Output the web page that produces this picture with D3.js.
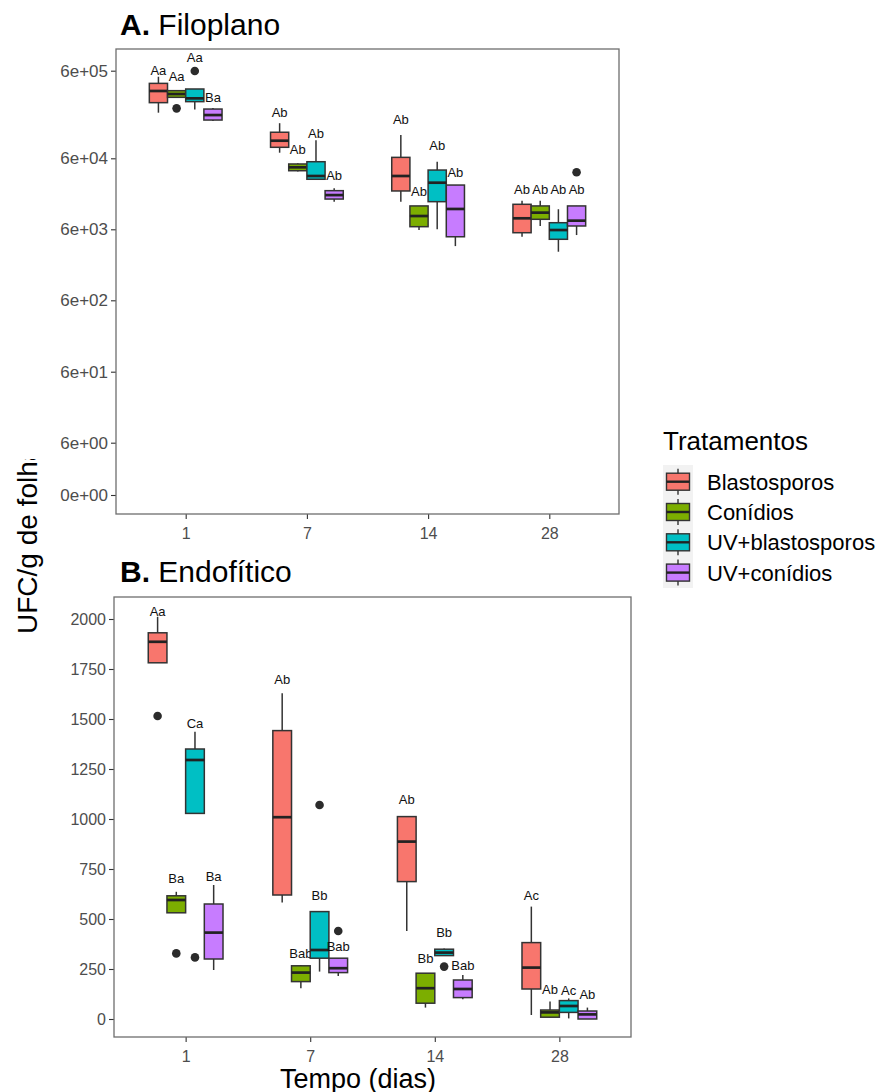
<!DOCTYPE html>
<html><head><meta charset="utf-8">
<script src="https://cdn.jsdelivr.net/npm/d3@7"></script>
<style>body{margin:0;background:#fff}svg{display:block;font-family:"Liberation Sans",Arial,Helvetica,sans-serif}</style>
</head><body><svg id="c" width="883" height="1092"></svg>
<script>
// ---------- data ----------
const days = ["1", "7", "14", "28"];
const treatments = ["Blastosporos", "Conídios", "UV+blastosporos", "UV+conídios"];
const colors = ["#F8766D", "#7CAE00", "#00BFC4", "#C77CFF"];

// Filoplano (UFC/g), five-number summaries per day: [min, q1, median, q3, max]
const filoBlastosporos = [[1.99e5, 2.59e5, 3.52e5, 4.30e5, 5.12e5], [6.95e4, 8.01e4, 9.53e4, 1.19e5, 1.51e5], [1.47e4, 2.08e4, 3.38e4, 6.15e4, 1.11e5], [4.71e3, 5.37e3, 8.57e3, 1.35e4, 1.52e4]];
const filoConidios = [[2.98e5, 2.98e5, 3.25e5, 3.55e5, 3.55e5], [3.9e4, 4.01e4, 4.48e4, 4.99e4, 5.1e4], [5.86e3, 6.53e3, 9.23e3, 1.28e4, 1.28e4], [6.68e3, 8.3e3, 1.03e4, 1.28e4, 1.52e4]];
const filoUVBlastosporos = [[2.17e5, 2.66e5, 2.90e5, 3.71e5, 3.71e5], [3.04e4, 3.04e4, 3.38e4, 5.37e4, 9.66e4], [6.0e3, 1.47e4, 2.72e4, 4.10e4, 5.37e4], [2.90e3, 4.34e3, 5.86e3, 7.43e3, 1.15e4]];
const filoUVConidios = [[1.60e5, 1.64e5, 1.87e5, 2.19e5, 2.25e5], [1.47e4, 1.60e4, 1.82e4, 2.10e4, 2.27e4], [3.48e3, 4.71e3, 1.16e4, 2.52e4, 2.52e4], [4.98e3, 6.68e3, 7.94e3, 1.28e4, 1.28e4]];
const filoOutliers = [[[], [], [], []], [[2.23e5], [], [], []], [[5.95e5], [], [], []], [[], [], [], [3.81e4]]];
const filoLetters = [["Aa", "Ab", "Ab", "Ab"], ["Aa", "Ab", "Ab", "Ab"], ["Aa", "Ab", "Ab", "Ab"], ["Ba", "Ab", "Ab", "Ab"]];
const filoLetterY = [[6.1e5, 1.99e5, 1.67e5, 2.19e4], [5.2e5, 7.5e4, 2.03e4, 2.19e4], [8.5e5, 1.16e5, 8.5e4, 2.19e4], [2.98e5, 3.49e4, 3.76e4, 2.19e4]];
const filoTickValues = [0, 6, 60, 600, 6000, 60000, 600000];
const filoTickLabels = ["0e+00", "6e+00", "6e+01", "6e+02", "6e+03", "6e+04", "6e+05"];

// Endofítico (UFC/g)
const endoBlastosporos = [[1781, 1781, 1886, 1931, 2011], [582, 620, 1009, 1442, 1629], [440, 687, 887, 1012, 1015], [20, 150, 257, 382, 562]];
const endoConidios = [[531, 531, 595, 616, 636], [154, 187, 232, 266, 270], [57, 79, 154, 229, 229], [9, 9, 33, 45, 87]];
const endoUVBlastosporos = [[1028, 1028, 1295, 1350, 1436], [237, 304, 345, 537, 537], [317, 317, 332, 349, 352], [3, 33, 65, 92, 103]];
const endoUVConidios = [[245, 300, 432, 575, 670], [215, 232, 254, 304, 304], [99, 107, 150, 195, 220], [0, 0, 23, 40, 57]];
const endoOutliers = [[[1515], [], [], []], [[328], [], [], []], [[308], [1070], [262], []], [[], [440], [], []]];
const endoLetters = [["Aa", "Ab", "Ab", "Ac"], ["Ba", "Bab", "Bb", "Ab"], ["Ca", "Bb", "Bb", "Ac"], ["Ba", "Bab", "Bab", "Ab"]];
const endoLetterY = [[2036, 1698, 1098, 620], [705, 328, 303, 148], [1478, 616, 431, 145], [715, 365, 270, 123]];
const endoTickValues = [0, 250, 500, 750, 1000, 1250, 1500, 1750, 2000];

// ---------- drawing ----------
const svg = d3.select("#c");
svg.append("rect").attr("width", 883).attr("height", 1092).attr("fill", "#fff");
const edge = "#333333";

function panel(cfg) {
  const g = svg.append("g");
  const x = d3.scalePoint().domain(days).range([cfg.left, cfg.right]).padding(0.575);
  const bw = x.step() * 0.15;
  const y = cfg.y;
  const ya = g.append("g").attr("transform", `translate(${cfg.left},0)`).call(cfg.yAxis);
  const xa = g.append("g").attr("transform", `translate(0,${cfg.bottom})`)
    .call(d3.axisBottom(x).tickSizeInner(5).tickSizeOuter(0).tickPadding(9));
  [ya, xa].forEach(a => {
    a.select(".domain").remove();
    a.selectAll(".tick line").attr("stroke", edge).attr("stroke-width", 1.1);
    a.selectAll(".tick text").attr("fill", "#4d4d4d").attr("font-size", 16).attr("font-family", "Liberation Sans, Arial, sans-serif");
  });
  ya.selectAll(".tick text").attr("font-size", cfg.yTickSize);
  g.append("rect").attr("x", cfg.left).attr("y", cfg.top).attr("width", cfg.right - cfg.left)
    .attr("height", cfg.bottom - cfg.top).attr("fill", "none").attr("stroke", "#6e6e6e").attr("stroke-width", 1.3);
  cfg.series.forEach((ser, ti) => {
    ser.forEach((s, di) => {
      const cx = x(days[di]) + (ti - 1.5) * bw;
      const bg = g.append("g");
      bg.append("line").attr("x1", cx).attr("x2", cx).attr("y1", y(s[0])).attr("y2", y(s[4]))
        .attr("stroke", edge).attr("stroke-width", 1.5);
      bg.append("rect").attr("x", cx - bw / 2).attr("width", bw)
        .attr("y", y(s[3])).attr("height", Math.max(0.5, y(s[1]) - y(s[3])))
        .attr("fill", colors[ti]).attr("stroke", edge).attr("stroke-width", 1.5);
      bg.append("line").attr("x1", cx - bw / 2).attr("x2", cx + bw / 2).attr("y1", y(s[2])).attr("y2", y(s[2]))
        .attr("stroke", "#222").attr("stroke-width", 2.7);
      cfg.outliers[ti][di].forEach(v => {
        bg.append("circle").attr("cx", cx).attr("cy", y(v)).attr("r", 4.3).attr("fill", "#2b2b2b");
      });
      g.append("text").attr("x", cx).attr("y", y(cfg.letterY[ti][di])).attr("dy", "0.36em")
        .attr("text-anchor", "middle").attr("font-size", 13).attr("fill", "#111").text(cfg.letters[ti][di]);
    });
  });
  const t = svg.append("text").attr("x", cfg.titleX).attr("y", cfg.titleY).attr("font-size", 30).attr("fill", "#000");
  t.append("tspan").attr("font-weight", "bold").text(cfg.titleBold);
  t.append("tspan").text(" " + cfg.title);
  return x;
}

const tf = v => v > 0 ? Math.log10(v) : 0;
const yTopScale = d3.scaleLinear().domain(filoTickValues.map(tf)).range([495, 442.7, 371.7, 300.3, 229.3, 158.3, 70.7]);
const yTop = v => yTopScale(tf(v));
panel({
  left: 116, right: 619, top: 49, bottom: 514, y: yTop, yTickSize: 17,
  yAxis: d3.axisLeft(yTopScale).tickValues(filoTickValues.map(tf)).tickFormat((d, i) => filoTickLabels[i]).tickSizeInner(5).tickSizeOuter(0).tickPadding(3),
  series: [filoBlastosporos, filoConidios, filoUVBlastosporos, filoUVConidios],
  outliers: filoOutliers, letters: filoLetters, letterY: filoLetterY,
  titleX: 120, titleY: 35, titleBold: "A.", title: "Filoplano"
});

const yBot = d3.scaleLinear().domain([-90, 2110]).range([1037, 597]);
panel({
  left: 114, right: 631, top: 597, bottom: 1037, y: yBot, yTickSize: 16,
  yAxis: d3.axisLeft(yBot).tickValues(endoTickValues).tickFormat(d3.format("d")).tickSizeInner(5).tickSizeOuter(0).tickPadding(3),
  series: [endoBlastosporos, endoConidios, endoUVBlastosporos, endoUVConidios],
  outliers: endoOutliers, letters: endoLetters, letterY: endoLetterY,
  titleX: 120, titleY: 582, titleBold: "B.", title: "Endofítico"
});

// axis titles
svg.append("defs").append("clipPath").attr("id", "yclip").append("rect").attr("x", 0).attr("y", 459).attr("width", 60).attr("height", 300);
svg.append("g").attr("clip-path", "url(#yclip)")
  .append("text").attr("transform", "translate(37,634) rotate(-90)")
  .attr("font-size", 28).attr("fill", "#000").text("UFC/g de folha");
svg.append("text").attr("x", 358).attr("y", 1088).attr("text-anchor", "middle").attr("font-size", 27).attr("fill", "#000").text("Tempo (dias)");

// legend
const lg = svg.append("g");
lg.append("text").attr("x", 663).attr("y", 450).attr("font-size", 26).attr("fill", "#000").text("Tratamentos");
lg.append("rect").attr("x", 663).attr("y", 465).attr("width", 30).attr("height", 123).attr("fill", "#f2f2f2");
treatments.forEach((name, i) => {
  const cy = 481.7 + i * 30.3;
  lg.append("line").attr("x1", 678).attr("x2", 678).attr("y1", cy - 13).attr("y2", cy + 13).attr("stroke", edge).attr("stroke-width", 1.4);
  lg.append("rect").attr("x", 666.5).attr("y", cy - 8.5).attr("width", 23).attr("height", 17).attr("fill", colors[i]).attr("stroke", edge).attr("stroke-width", 1.4);
  lg.append("line").attr("x1", 666.5).attr("x2", 689.5).attr("y1", cy).attr("y2", cy).attr("stroke", "#222").attr("stroke-width", 2.4);
  lg.append("text").attr("x", 707).attr("y", cy + 8).attr("font-size", 22).attr("fill", "#000").text(name);
});
</script></body></html>
